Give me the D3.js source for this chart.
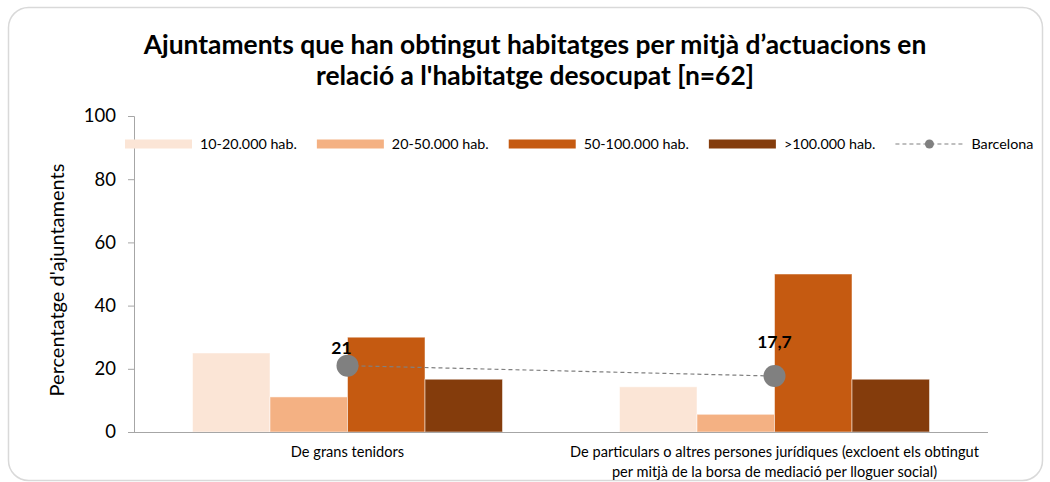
<!DOCTYPE html>
<html>
<head>
<meta charset="utf-8">
<script src="https://cdn.jsdelivr.net/npm/d3@7"></script>
<style>
  body { margin: 0; background: #fff; }
  text { font-family: Lato, "Open Sans", sans-serif; fill: #000; }
</style>
</head>
<body>
<div id="chart"></div>
<script>
// chart data
const categories = [
    "De grans tenidors",
    "De particulars o altres persones jurídiques (excloent els obtingut per mitjà de la borsa de mediació per lloguer social)"
];
const seriesNames = ["10-20.000 hab.", "20-50.000 hab.", "50-100.000 hab.", ">100.000 hab."];
const pop10to20 = [25, 14.3];
const pop20to50 = [11.1, 5.6];
const pop50to100 = [30, 50];
const popOver100 = [16.7, 16.7];
const barcelona = [21, 17.7];
const barcelonaLabels = ["21", "17,7"];
const yTicks = [0, 20, 40, 60, 80, 100];

const colors = ["#FBE5D6", "#F4B183", "#C55A11", "#843C0C"];
const seriesValues = [pop10to20, pop20to50, pop50to100, popOver100];

const width = 1050, height = 482;
const margin = {top: 116, right: 62, bottom: 50, left: 134};
const plotW = width - margin.left - margin.right;
const plotH = height - margin.top - margin.bottom;

const svg = d3.select('#chart').append('svg')
    .attr('width', width)
    .attr('height', height);

// outer rounded frame
svg.append('rect')
    .attr('x', 8.5).attr('y', 7.5)
    .attr('width', 1034).attr('height', 473)
    .attr('rx', 20)
    .attr('fill', '#fff')
    .attr('stroke', '#d9d9d9')
    .attr('stroke-width', 1.5);

// title
const title = svg.append('text')
    .attr('text-anchor', 'middle')
    .style('font-weight', 700)
    .style('font-size', '26.4px');
title.append('tspan').attr('x', 535).attr('y', 54)
    .text("Ajuntaments que han obtingut habitatges per mitjà d’actuacions en");
title.append('tspan').attr('x', 535).attr('y', 85)
    .text("relació a l'habitatge desocupat [n=62]");

const g = svg.append('g')
    .attr('transform', `translate(${margin.left},${margin.top})`);

// scales
const x0 = d3.scaleBand()
    .domain(categories)
    .range([0, plotW])
    .paddingInner(0.274)
    .paddingOuter(0.137);

const x1 = d3.scaleBand()
    .domain(seriesNames)
    .range([0, x0.bandwidth()]);

const y = d3.scaleLinear()
    .domain([0, 100])
    .range([plotH, 0]);

// y axis
const yAxis = g.append('g')
    .call(d3.axisLeft(y).tickValues(yTicks).tickSize(6).tickPadding(12));
yAxis.select('.domain').attr('stroke', '#a6a6a6').attr('d', `M-6,0.5H0.5V${plotH}`);
yAxis.selectAll('.tick line').attr('stroke', '#a6a6a6');
yAxis.selectAll('.tick text')
    .style('font-family', 'Lato, sans-serif')
    .style('font-size', '18.5px')
    .attr('fill', '#000');

// bars
categories.forEach((cat, ci) => {
    g.append('g')
        .selectAll('rect')
        .data(seriesNames.map((s, si) => ({series: s, value: seriesValues[si][ci], color: colors[si]})))
        .enter().append('rect')
        .attr('x', d => x0(cat) + x1(d.series))
        .attr('y', d => y(d.value))
        .attr('width', x1.bandwidth())
        .attr('height', d => plotH - y(d.value))
        .attr('fill', d => d.color)
        .attr('stroke', '#ffffff')
        .attr('stroke-opacity', 0.5)
        .attr('stroke-width', 1);
});

// x axis line
g.append('line')
    .attr('x1', -6).attr('x2', plotW)
    .attr('y1', plotH + 0.5).attr('y2', plotH + 0.5)
    .attr('stroke', '#a6a6a6')
    .attr('stroke-width', 1.2);

// category labels, wrapped
function wrap(textSel, maxWidth) {
    textSel.each(function() {
        const text = d3.select(this);
        const words = text.text().split(/\s+/);
        const xPos = text.attr('x');
        const yPos = +text.attr('y');
        text.text(null);
        let line = [];
        let lineNo = 0;
        let tspan = text.append('tspan').attr('x', xPos).attr('y', yPos);
        words.forEach(w => {
            line.push(w);
            tspan.text(line.join(' '));
            if (tspan.node().getComputedTextLength() > maxWidth && line.length > 1) {
                line.pop();
                tspan.text(line.join(' '));
                line = [w];
                lineNo++;
                tspan = text.append('tspan').attr('x', xPos).attr('y', yPos + lineNo * 20).text(w);
            }
        });
    });
}

g.selectAll('.cat-label')
    .data(categories)
    .enter().append('text')
    .attr('class', 'cat-label')
    .attr('x', d => x0(d) + x0.bandwidth() / 2)
    .attr('y', plotH + 25)
    .attr('text-anchor', 'middle')
    .style('font-size', '14.6px')
    .text(d => d)
    .call(wrap, 425);

// Barcelona line + markers
const bx = d => x0(d) + x0.bandwidth() / 2;
const bcnData = categories.map((c, i) => ({cat: c, value: barcelona[i], label: barcelonaLabels[i]}));

g.append('path')
    .datum(bcnData)
    .attr('fill', 'none')
    .attr('stroke', '#808080')
    .attr('stroke-width', 1.2)
    .attr('stroke-dasharray', '4,3')
    .attr('d', d3.line().x(d => bx(d.cat)).y(d => y(d.value)));

g.selectAll('.bcn-dot')
    .data(bcnData)
    .enter().append('circle')
    .attr('class', 'bcn-dot')
    .attr('cx', d => bx(d.cat))
    .attr('cy', d => y(d.value))
    .attr('r', 11)
    .attr('fill', '#808080');

const labelNudge = [[-6, -12], [0, -28]];
g.selectAll('.bcn-label')
    .data(bcnData)
    .enter().append('text')
    .attr('class', 'bcn-label')
    .attr('x', (d, i) => bx(d.cat) + labelNudge[i][0])
    .attr('y', (d, i) => y(d.value) + labelNudge[i][1])
    .attr('text-anchor', 'middle')
    .style('font-size', '17.5px')
    .style('font-weight', 700)
    .text(d => d.label);

// y axis title
svg.append('text')
    .attr('transform', 'translate(64,280) rotate(-90)')
    .attr('text-anchor', 'middle')
    .style('font-size', '20px')
    .text("Percentatge d'ajuntaments");

// legend
const legend = svg.append('g');
let lx = 125;
const ly = 144;
seriesNames.forEach((name, i) => {
    legend.append('rect')
        .attr('x', lx).attr('y', ly - 4.5)
        .attr('width', 67).attr('height', 9)
        .attr('fill', colors[i]);
    const t = legend.append('text')
        .attr('x', lx + 75).attr('y', ly + 5)
        .style('font-size', '14.3px')
        .text(name);
    lx += 75 + t.node().getComputedTextLength() + 20;
});
legend.append('line')
    .attr('x1', lx).attr('x2', lx + 68)
    .attr('y1', ly).attr('y2', ly)
    .attr('stroke', '#808080')
    .attr('stroke-width', 1.2)
    .attr('stroke-dasharray', '4,3');
legend.append('circle')
    .attr('cx', lx + 34).attr('cy', ly)
    .attr('r', 4.5)
    .attr('fill', '#808080');
legend.append('text')
    .attr('x', lx + 76).attr('y', ly + 5)
    .style('font-size', '14.3px')
    .text('Barcelona');
</script>
</body>
</html>
